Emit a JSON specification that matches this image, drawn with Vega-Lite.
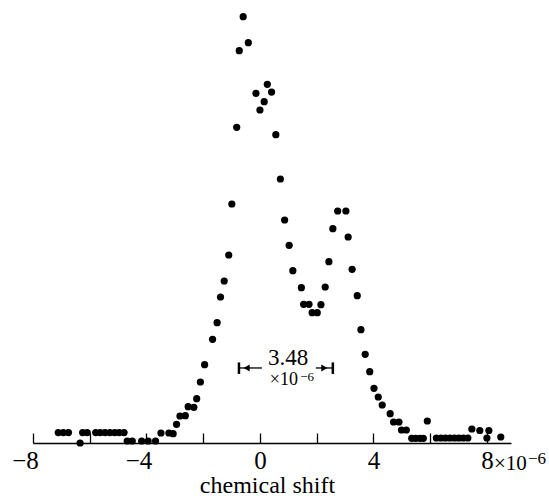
{
  "$schema": "https://vega.github.io/schema/vega-lite/v6.json",
  "width": 478,
  "height": 433,
  "autosize": {"type": "none"},
  "padding": {"left": 33, "top": 10, "right": 38, "bottom": 53},
  "background": "white",
  "config": {"view": {"stroke": null}},
  "datasets": {
    "points": [
      {"x": -7.11, "y": 2.44}, {"x": -6.93, "y": 2.44}, {"x": -6.75, "y": 2.44},
      {"x": -6.34, "y": 0.0},
      {"x": -6.25, "y": 2.44}, {"x": -6.09, "y": 2.44}, {"x": -5.79, "y": 2.44}, {"x": -5.63, "y": 2.44},
      {"x": -5.46, "y": 2.44}, {"x": -5.29, "y": 2.44}, {"x": -5.12, "y": 2.44}, {"x": -4.96, "y": 2.44},
      {"x": -4.79, "y": 2.44},
      {"x": -4.68, "y": 0.47}, {"x": -4.50, "y": 0.47}, {"x": -4.17, "y": 0.47}, {"x": -3.94, "y": 0.47},
      {"x": -3.68, "y": 0.47},
      {"x": -3.49, "y": 2.35}, {"x": -3.21, "y": 2.35}, {"x": -3.06, "y": 2.18}, {"x": -2.94, "y": 4.39},
      {"x": -2.82, "y": 6.33}, {"x": -2.63, "y": 6.40}, {"x": -2.53, "y": 8.52}, {"x": -2.33, "y": 8.37},
      {"x": -2.23, "y": 10.39}, {"x": -2.10, "y": 14.31}, {"x": -1.95, "y": 18.37}, {"x": -1.67, "y": 24.33},
      {"x": -1.51, "y": 28.22}, {"x": -1.39, "y": 34.25}, {"x": -1.26, "y": 38.0}, {"x": -1.10, "y": 44.1},
      {"x": -0.99, "y": 56.06}, {"x": -0.82, "y": 74.05}, {"x": -0.73, "y": 92.02}, {"x": -0.59, "y": 100.0},
      {"x": -0.41, "y": 93.9}, {"x": -0.14, "y": 82.03}, {"x": 0.0, "y": 78.11}, {"x": 0.15, "y": 80.06},
      {"x": 0.26, "y": 84.14}, {"x": 0.41, "y": 82.33}, {"x": 0.56, "y": 72.32}, {"x": 0.72, "y": 61.93},
      {"x": 0.87, "y": 52.31}, {"x": 1.03, "y": 46.37}, {"x": 1.16, "y": 40.42}, {"x": 1.46, "y": 36.43},
      {"x": 1.54, "y": 32.54}, {"x": 1.73, "y": 32.54}, {"x": 1.84, "y": 30.57}, {"x": 2.02, "y": 30.57},
      {"x": 2.15, "y": 32.44}, {"x": 2.30, "y": 36.59}, {"x": 2.43, "y": 42.53}, {"x": 2.57, "y": 50.27},
      {"x": 2.74, "y": 54.42}, {"x": 3.03, "y": 54.42}, {"x": 3.11, "y": 48.32}, {"x": 3.25, "y": 40.75},
      {"x": 3.43, "y": 34.55}, {"x": 3.56, "y": 26.58}, {"x": 3.71, "y": 20.81}, {"x": 3.87, "y": 16.73},
      {"x": 4.02, "y": 12.83}, {"x": 4.17, "y": 10.79}, {"x": 4.31, "y": 8.91}, {"x": 4.59, "y": 6.87},
      {"x": 4.71, "y": 4.93}, {"x": 4.90, "y": 4.93}, {"x": 4.99, "y": 3.05}, {"x": 5.16, "y": 3.05},
      {"x": 5.35, "y": 1.10}, {"x": 5.49, "y": 1.10}, {"x": 5.64, "y": 1.10}, {"x": 5.76, "y": 1.10},
      {"x": 5.90, "y": 5.16},
      {"x": 6.22, "y": 1.17}, {"x": 6.38, "y": 1.17}, {"x": 6.54, "y": 1.17}, {"x": 6.70, "y": 1.17},
      {"x": 6.86, "y": 1.17}, {"x": 7.01, "y": 1.17}, {"x": 7.17, "y": 1.17}, {"x": 7.33, "y": 1.17},
      {"x": 7.47, "y": 3.28}, {"x": 7.75, "y": 2.93}, {"x": 8.07, "y": 2.93}, {"x": 8.00, "y": 1.17},
      {"x": 8.49, "y": 1.41}
    ],
    "hlines": [
      {"x": -0.74, "x2": 0.07, "y": 17.6},
      {"x": 1.97, "x2": 2.57, "y": 17.6}
    ],
    "bars": [
      {"x": -0.74, "y": 16.2, "y2": 18.9},
      {"x": 2.57, "y": 16.2, "y2": 18.9}
    ],
    "headLeft": [{"x": -0.47, "y": 17.6}],
    "headRight": [{"x": 2.27, "y": 17.6}],
    "big": [{"x": 0.99, "y": 18.3, "text": "3.48"}],
    "small": [{"x": 1.34, "y": 13.6, "text": "×10"}],
    "sup": [{"x": 1.42, "y": 14.54, "text": "−6"}],
    "axisSuffix": [{"x": 8, "y": 0, "text": "×10"}],
    "axisSup": [{"x": 8, "y": 0, "text": "−6"}]
  },
  "encoding": {
    "x": {
      "field": "x", "type": "quantitative",
      "scale": {"domain": [-8, 8.85], "nice": false, "zero": false},
      "axis": {
        "values": [-8, -6, -4, -2, 0, 2, 4, 6, 8],
        "labelExpr": "datum.value % 4 == 0 ? (datum.value < 0 ? '−' + abs(datum.value) : '' + datum.value) : ''",
        "labelFlush": false,
        "labelOverlap": false,
        "labelBound": false,
        "labelFont": "Liberation Serif",
        "labelFontSize": 25,
        "labelColor": "black",
        "labelBaseline": "top",
        "labelPadding": 15,
        "labelOffset": {"condition": {"test": "datum.value < 0", "value": -8}, "value": 0},
        "tickSize": -10,
        "tickWidth": 1.3,
        "tickColor": "black",
        "domainColor": "black",
        "domainWidth": 1.6,
        "grid": false,
        "title": "chemical shift",
        "titleFont": "Liberation Serif",
        "titleFontSize": 24,
        "titleFontWeight": "normal",
        "titleColor": "black",
        "titleX": 234,
        "titleY": 49,
        "titleBaseline": "alphabetic"
      }
    },
    "y": {
      "field": "y", "type": "quantitative",
      "scale": {"domain": [0, 101.57], "nice": false, "zero": true},
      "axis": null
    }
  },
  "layer": [
    {"data": {"name": "points"}, "mark": {"type": "circle", "size": 52, "color": "black", "opacity": 1}},
    {"data": {"name": "hlines"}, "mark": {"type": "rule", "color": "black", "strokeWidth": 1.3},
     "encoding": {"x2": {"field": "x2"}}},
    {"data": {"name": "bars"}, "mark": {"type": "rule", "color": "black", "strokeWidth": 2.5},
     "encoding": {"y2": {"field": "y2"}}},
    {"data": {"name": "headLeft"}, "mark": {"type": "point", "shape": "triangle-left", "filled": true, "size": 50, "color": "black", "opacity": 1}},
    {"data": {"name": "headRight"}, "mark": {"type": "point", "shape": "triangle-right", "filled": true, "size": 50, "color": "black", "opacity": 1}},
    {"data": {"name": "big"}, "mark": {"type": "text", "font": "Liberation Serif", "fontSize": 23, "color": "black", "align": "center", "baseline": "alphabetic"},
     "encoding": {"text": {"field": "text"}}},
    {"data": {"name": "small"}, "mark": {"type": "text", "font": "Liberation Serif", "fontSize": 18, "color": "black", "align": "right", "baseline": "alphabetic"},
     "encoding": {"text": {"field": "text"}}},
    {"data": {"name": "sup"}, "mark": {"type": "text", "font": "Liberation Serif", "fontSize": 13, "color": "black", "align": "left", "baseline": "alphabetic"},
     "encoding": {"text": {"field": "text"}}},
    {"data": {"name": "axisSuffix"}, "mark": {"type": "text", "font": "Liberation Serif", "fontSize": 21, "color": "black", "align": "left", "baseline": "alphabetic", "dx": 7, "dy": 27},
     "encoding": {"text": {"field": "text"}}},
    {"data": {"name": "axisSup"}, "mark": {"type": "text", "font": "Liberation Serif", "fontSize": 17, "color": "black", "align": "left", "baseline": "alphabetic", "dx": 41, "dy": 21},
     "encoding": {"text": {"field": "text"}}}
  ]
}
